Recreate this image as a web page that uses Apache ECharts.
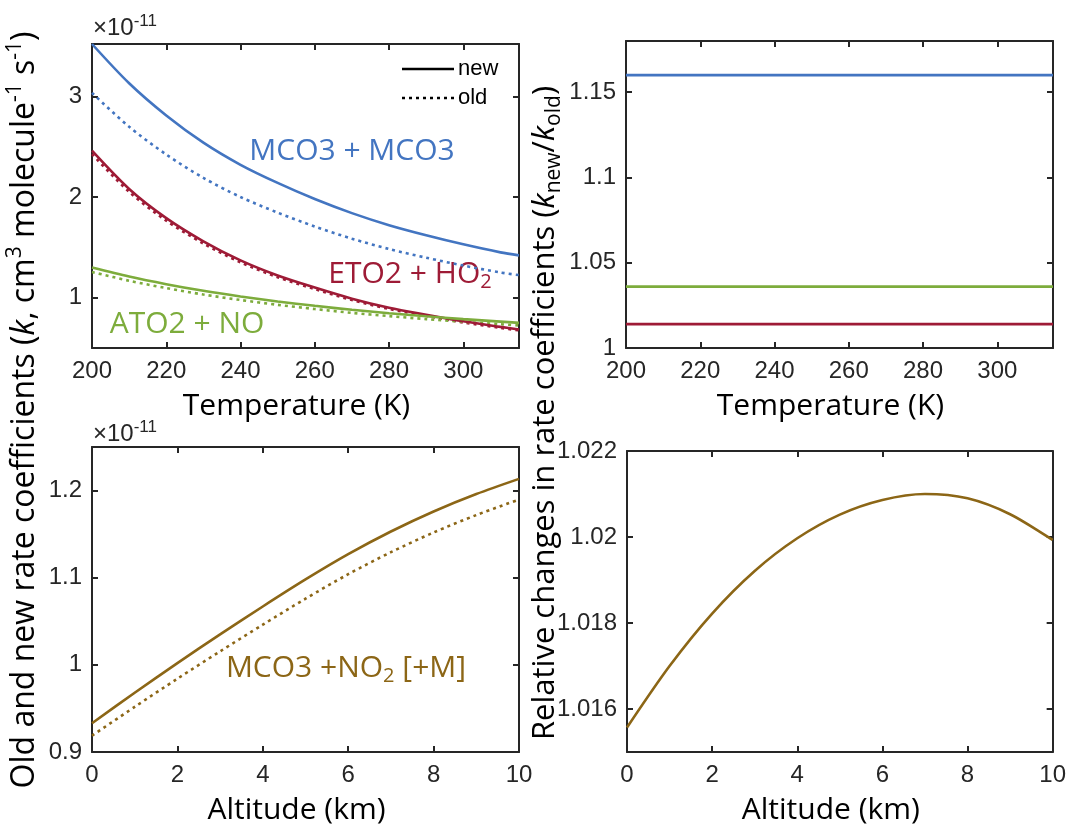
<!DOCTYPE html>
<html>
<head>
<meta charset="utf-8">
<script src="https://cdn.jsdelivr.net/npm/echarts@6/dist/echarts.min.js"></script>
<style>
  html, body { margin: 0; padding: 0; background: #ffffff; }
  #chart { width: 1069px; height: 826px; }
</style>
</head>
<body>
<div id="chart"></div>
<script>
// ---- Temperature dependence (K) of three peroxy-radical reactions ----
const temperatureK = [200, 210, 220, 230, 240, 250, 260, 270, 280, 290, 300, 310, 315];
// rate coefficients, units of 1e-11 cm3 molecule-1 s-1
const mco3New = [3.52, 3.13, 2.81, 2.54, 2.32, 2.14, 1.98, 1.84, 1.72, 1.62, 1.53, 1.45, 1.42];
const mco3Old = [3.034, 2.698, 2.422, 2.190, 2.000, 1.845, 1.707, 1.586, 1.483, 1.397, 1.319, 1.250, 1.224];
const eto2New = [2.46, 2.08, 1.79, 1.56, 1.37, 1.22, 1.10, 0.99, 0.90, 0.83, 0.765, 0.71, 0.684];
const eto2Old = [2.426, 2.051, 1.765, 1.538, 1.351, 1.203, 1.085, 0.976, 0.888, 0.819, 0.754, 0.700, 0.675];
const ato2New = [1.30, 1.21, 1.134, 1.068, 1.012, 0.962, 0.919, 0.880, 0.846, 0.815, 0.787, 0.762, 0.750];
const ato2Old = [1.255, 1.168, 1.095, 1.031, 0.977, 0.929, 0.887, 0.849, 0.817, 0.787, 0.760, 0.736, 0.724];

// ratio k_new / k_old (constant with temperature)
const ratioTempK = [200, 315];
const ratioMco3 = [1.16, 1.16];
const ratioAto2 = [1.036, 1.036];
const ratioEto2 = [1.014, 1.014];

// ---- Altitude dependence of MCO3 + NO2 [+M] ----
const altitudeKm = [0, 1, 2, 3, 4, 5, 6, 7, 8, 9, 10];
const no2New = [0.933, 0.968, 1.002, 1.035, 1.067, 1.098, 1.127, 1.153, 1.176, 1.196, 1.2134];
const no2Old = [0.9187, 0.9518, 0.9841, 1.0155, 1.0461, 1.0759, 1.1040, 1.1293, 1.1519, 1.1719, 1.1897];
const no2Ratio = [1.01557, 1.01700, 1.01822, 1.01921, 1.01997, 1.02052, 1.02086, 1.02100, 1.02090, 1.02053, 1.01993];

// ---- tick values ----
const tempTicks = [200, 220, 240, 260, 280, 300];
const altTicks = [0, 2, 4, 6, 8, 10];
const kTicks = [1, 2, 3];
const ratioTicks = [1, 1.05, 1.1, 1.15];
const no2Ticks = [0.9, 1, 1.1, 1.2];
const no2RatioTicks = [1.016, 1.018, 1.02, 1.022];

const AX = '#262626';
const BLUE = '#4375C1';
const RED = '#9E1B36';
const GREEN = '#7DAC3C';
const GOLD = '#8C6616';
const TICK_FONT = '"Liberation Sans", Arial, sans-serif';
const TITLE_FONT = '"Open Sans", "Noto Sans", sans-serif';

const chart = echarts.init(document.getElementById('chart'), null, { renderer: 'canvas' });

const panels = [
  { grid: { left: 92, top: 44, width: 427, height: 304 }, x: [200, 315], xTicks: tempTicks, y: [0.5, 3.52], yTicks: kTicks, xName: 'Temperature (K)' },
  { grid: { left: 626, top: 41, width: 427, height: 307 }, x: [200, 315], xTicks: tempTicks, y: [1, 1.18], yTicks: ratioTicks, xName: 'Temperature (K)' },
  { grid: { left: 92, top: 447, width: 427, height: 305 }, x: [0, 10], xTicks: altTicks, y: [0.9, 1.25], yTicks: no2Ticks, xName: 'Altitude (km)' },
  { grid: { left: 627, top: 451, width: 426, height: 302 }, x: [0, 10], xTicks: altTicks, y: [1.015, 1.022], yTicks: no2RatioTicks, xName: 'Altitude (km)' }
];

const lineStyleAx = { color: AX, width: 2 };
const tickStyle = { color: AX, width: 2 };

const grids = [], xAxes = [], yAxes = [];
panels.forEach((p, i) => {
  grids.push(Object.assign({ containLabel: false }, p.grid));
  const common = { gridIndex: i, type: 'value', splitLine: { show: false } };
  xAxes.push(Object.assign({}, common, {
    position: 'bottom', min: p.x[0], max: p.x[1],
    axisLine: { show: true, onZero: false, lineStyle: lineStyleAx },
    axisTick: { show: true, inside: true, length: 6, customValues: p.xTicks, lineStyle: tickStyle },
    axisLabel: { show: true, customValues: p.xTicks, margin: 11, fontFamily: TICK_FONT, fontSize: 24, color: AX },
    name: p.xName, nameLocation: 'middle', nameGap: 43,
    nameTextStyle: { fontFamily: TITLE_FONT, fontSize: 30, color: '#000', padding: [0, 18, 0, 0] }
  }));
  xAxes.push(Object.assign({}, common, {
    position: 'top', min: p.x[0], max: p.x[1],
    axisLine: { show: true, onZero: false, lineStyle: lineStyleAx },
    axisTick: { show: true, inside: true, length: 6, customValues: p.xTicks, lineStyle: tickStyle },
    axisLabel: { show: false }
  }));
  yAxes.push(Object.assign({}, common, {
    position: 'left', min: p.y[0], max: p.y[1],
    axisLine: { show: true, onZero: false, lineStyle: lineStyleAx },
    axisTick: { show: true, inside: true, length: 6, customValues: p.yTicks, lineStyle: tickStyle },
    axisLabel: { show: true, customValues: p.yTicks, margin: 10, fontFamily: TICK_FONT, fontSize: 24, color: AX,
      formatter: v => String(+v.toFixed(4)) }
  }));
  yAxes.push(Object.assign({}, common, {
    position: 'right', min: p.y[0], max: p.y[1],
    axisLine: { show: true, onZero: false, lineStyle: lineStyleAx },
    axisTick: { show: true, inside: true, length: 6, customValues: p.yTicks, lineStyle: tickStyle },
    axisLabel: { show: false }
  }));
});

function curve(panel, xs, ys, color, dotted) {
  return {
    type: 'line',
    xAxisIndex: panel * 2,
    yAxisIndex: panel * 2,
    data: xs.map((x, i) => [x, ys[i]]),
    showSymbol: false,
    symbol: 'none',
    smooth: 0.3,
    silent: true,
    z: dotted ? 2 : 3,
    lineStyle: { color: color, width: 2.6, type: dotted ? [3, 4] : 'solid', cap: 'butt' }
  };
}

const series = [
  curve(0, temperatureK, mco3Old, BLUE, true),
  curve(0, temperatureK, mco3New, BLUE, false),
  curve(0, temperatureK, eto2Old, RED, true),
  curve(0, temperatureK, eto2New, RED, false),
  curve(0, temperatureK, ato2Old, GREEN, true),
  curve(0, temperatureK, ato2New, GREEN, false),
  curve(1, ratioTempK, ratioMco3, BLUE, false),
  curve(1, ratioTempK, ratioAto2, GREEN, false),
  curve(1, ratioTempK, ratioEto2, RED, false),
  curve(2, altitudeKm, no2Old, GOLD, true),
  curve(2, altitudeKm, no2New, GOLD, false),
  curve(3, altitudeKm, no2Ratio, GOLD, false)
];

const tok = (size, lh, color, extra) => Object.assign({ fontFamily: TITLE_FONT, fontSize: size, lineHeight: lh, fill: color }, extra || {});

function label(x, y, text, color) {
  return {
    type: 'text', x: x, y: y, silent: true,
    style: {
      text: text, fill: color, fontFamily: TITLE_FONT, fontSize: 30, lineHeight: 36,
      align: 'center', verticalAlign: 'middle',
      rich: {
        n: tok(30, 36, color),
        s: tok(20, 18, color, { verticalAlign: 'bottom' })
      }
    }
  };
}

const exponent = (y) => ({
  type: 'text', x: 93, y: y, silent: true,
  style: {
    text: '{a|×10}{e|-11}', fill: AX, align: 'left', verticalAlign: 'bottom',
    rich: {
      a: { fontFamily: TICK_FONT, fontSize: 24, lineHeight: 30, fill: AX },
      e: { fontFamily: TICK_FONT, fontSize: 17, lineHeight: 17, verticalAlign: 'top', fill: AX }
    }
  }
});

const graphics = [
  exponent(43),
  exponent(449),
  // legend for line styles
  { type: 'line', silent: true, shape: { x1: 402, y1: 69, x2: 454, y2: 69 }, style: { stroke: '#000', lineWidth: 2.6 } },
  { type: 'line', silent: true, shape: { x1: 402, y1: 98, x2: 454, y2: 98 }, style: { stroke: '#000', lineWidth: 2.6, lineDash: [3, 4] } },
  { type: 'text', x: 458, y: 69, silent: true, style: { text: 'new', fill: '#000', fontFamily: TICK_FONT, fontSize: 22, align: 'left', verticalAlign: 'middle' } },
  { type: 'text', x: 458, y: 98, silent: true, style: { text: 'old', fill: '#000', fontFamily: TICK_FONT, fontSize: 22, align: 'left', verticalAlign: 'middle' } },
  // reaction labels
  label(352, 151, '{n|MCO3 + MCO3}', BLUE),
  label(410, 274, '{n|ETO2 + HO}{s|2}', RED),
  label(187, 324, '{n|ATO2 + NO}', GREEN),
  label(346, 668, '{n|MCO3 +NO}{s|2}{n| [+M]}', GOLD),
  // left y title spanning both rows
  {
    type: 'text', x: 25, y: 410, rotation: Math.PI / 2, silent: true,
    style: {
      text: '{n|Old and new rate coefficients (}{i|k}{n|, cm}{p|3}{n| molecule}{p|-1}{n| s}{p|-1}{n|)}',
      fill: '#000', align: 'center', verticalAlign: 'middle',
      rich: {
        n: tok(32, 40, '#000'),
        i: tok(32, 40, '#000', { fontStyle: 'italic' }),
        p: tok(21, 20, '#000', { verticalAlign: 'top' })
      }
    }
  },
  // right y title spanning both rows
  {
    type: 'text', x: 545, y: 413, rotation: Math.PI / 2, silent: true,
    style: {
      text: '{n|Relative changes in rate coefficients (}{i|k}{b|new}{n|/}{i|k}{b|old}{n|)}',
      fill: '#000', align: 'center', verticalAlign: 'middle',
      rich: {
        n: tok(31, 40, '#000'),
        i: tok(31, 40, '#000', { fontStyle: 'italic' }),
        b: tok(21, 20, '#000', { verticalAlign: 'bottom' })
      }
    }
  }
];

chart.setOption({
  animation: false,
  backgroundColor: '#ffffff',
  grid: grids,
  xAxis: xAxes,
  yAxis: yAxes,
  series: series,
  graphic: graphics
});
</script>
</body>
</html>
